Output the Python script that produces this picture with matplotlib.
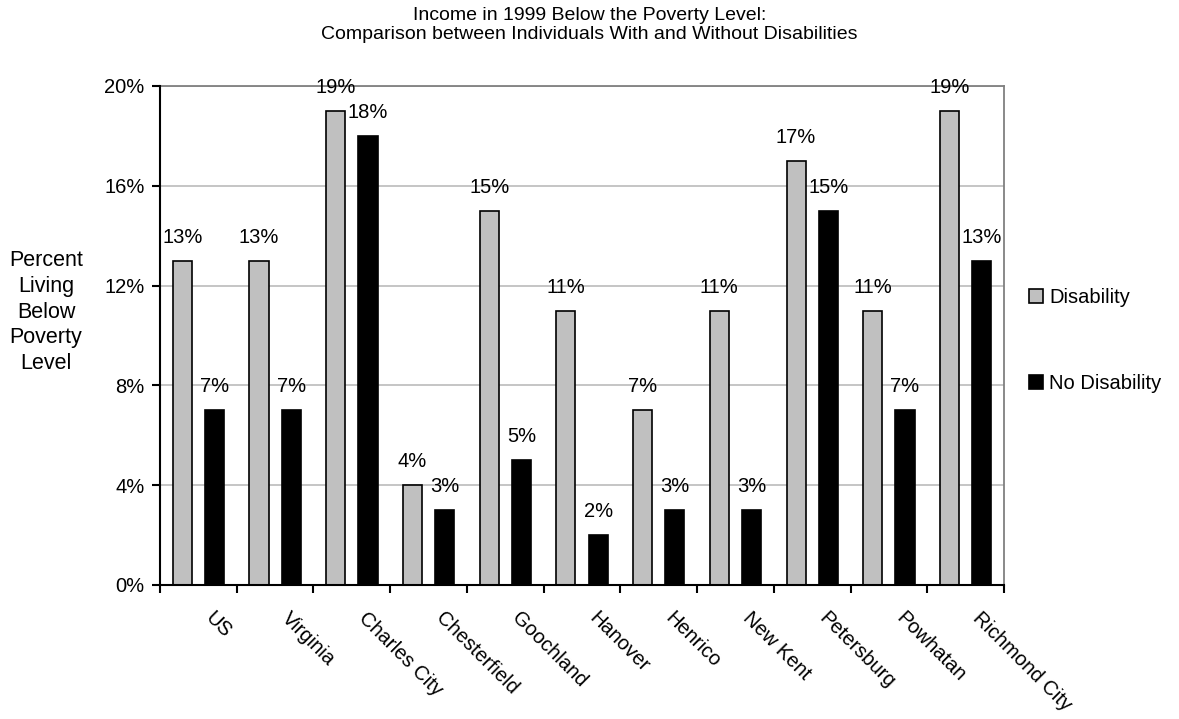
import numpy as np
import matplotlib.pyplot as plt
from matplotlib.ticker import FixedLocator, PercentFormatter

plt.rcParams['font.family'] = ['Liberation Sans', 'DejaVu Sans']

localities = ["US", "Virginia", "Charles City", "Chesterfield", "Goochland",
              "Hanover", "Henrico", "New Kent", "Petersburg", "Powhatan",
              "Richmond City"]
disability = [13, 13, 19, 4, 15, 11, 7, 11, 17, 11, 19]
no_disability = [7, 7, 18, 3, 5, 2, 3, 3, 15, 7, 13]

fig = plt.figure(figsize=(11.79, 7.19), dpi=100)
ax = fig.add_axes([0.1357, 0.1864, 0.7159, 0.6940])

x = np.arange(len(localities))
width = 0.25
offset = 0.21
fs = 14.5

b1 = ax.bar(x - offset, disability, width, color="#C0C0C0",
            edgecolor="black", linewidth=1.2, label="Disability", zorder=3)
b2 = ax.bar(x + offset, no_disability, width, color="black",
            edgecolor="black", linewidth=1.2, label="No Disability", zorder=3)

for bars, vals in ((b1, disability), (b2, no_disability)):
    for rect, v in zip(bars, vals):
        ax.annotate(f"{v}%", (rect.get_x() + rect.get_width() / 2, v),
                    xytext=(0, 10), textcoords="offset points",
                    ha="center", va="bottom", fontsize=fs, zorder=4)

ax.set_xlim(-0.5, len(localities) - 0.5)
ax.set_ylim(0, 20)
ax.set_yticks([0, 4, 8, 12, 16, 20])
ax.yaxis.set_major_formatter(PercentFormatter(decimals=0))
ax.grid(axis="y", color="#C0C0C0", linewidth=1.3, zorder=0)
ax.set_axisbelow(True)

# slanted category names under each group, tick marks between groups
ax.set_xticks([])
ax.xaxis.set_minor_locator(FixedLocator(np.arange(-0.5, len(localities), 1)))
ax.tick_params(axis="x", which="minor", length=6, width=1.5,
               direction="out", color="black")
for xi, name in zip(x, localities):
    ax.annotate(name, (xi, 0), xycoords=("data", "axes fraction"),
                xytext=(12, -17), textcoords="offset points",
                rotation=-45, rotation_mode="anchor", ha="left", va="top",
                fontsize=fs, annotation_clip=False)

ax.tick_params(axis="y", length=6, width=1.5, direction="out",
               labelsize=fs, pad=5)

for side in ("left", "bottom"):
    ax.spines[side].set_color("black")
    ax.spines[side].set_linewidth(1.5)
for side in ("top", "right"):
    ax.spines[side].set_color("#808080")
    ax.spines[side].set_linewidth(1.3)
ax.spines["left"].set_zorder(5)
ax.spines["bottom"].set_zorder(5)

ax.legend(loc="center left", bbox_to_anchor=(1.02, 0.49), frameon=False,
          fontsize=fs, handlelength=0.7, handleheight=0.7,
          handletextpad=0.3, labelspacing=3.3, borderaxespad=0)

fig.text(0.039, 0.566, "Percent\nLiving\nBelow\nPoverty\nLevel",
         ha="center", va="center", fontsize=15.5, linespacing=1.3)
fig.text(0.5, 0.965, "Income in 1999 Below the Poverty Level:\n"
         "Comparison between Individuals With and Without Disabilities",
         ha="center", va="center", fontsize=14, linespacing=1.15)

fig.savefig("out.png", dpi=100)
